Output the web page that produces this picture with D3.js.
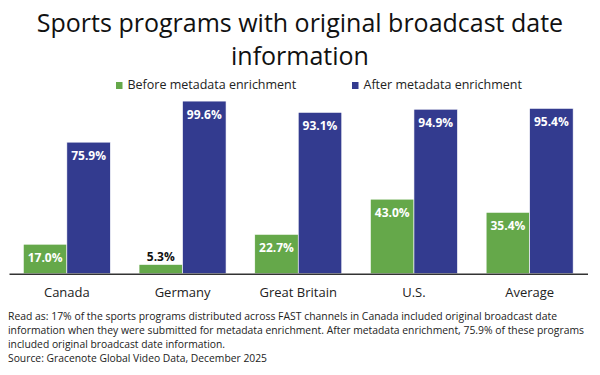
<!DOCTYPE html>
<html>
<head>
<meta charset="utf-8">
<script src="https://cdn.jsdelivr.net/npm/d3@7"></script>
<style>
  body{margin:0;background:#fff;}
  svg text{font-family:"Open Sans",sans-serif;}
</style>
</head>
<body>
<div id="chart"></div>
<script>
let w=600;
let h=375;

let categories=["Canada","Germany","Great Britain","U.S.","Average"];
let seriesNames=["Before metadata enrichment","After metadata enrichment"];
let beforeValues=[17.0,5.3,22.7,43.0,35.4];
let afterValues=[75.9,99.6,93.1,94.9,95.4];
let titleLines=["Sports programs with original broadcast date","information"];
let noteLines=[
  "Read as: 17% of the sports programs distributed across FAST channels in Canada included original broadcast date",
  "information when they were submitted for metadata enrichment. After metadata enrichment, 75.9% of these programs",
  "included original broadcast date information.",
  "Source: Gracenote Global Video Data, December 2025"
];
// measured widths of the footnote lines in the reference
let noteWidths=[549,576,217,259];

let colors=["#65a84a","#333b8f"];

let svg=d3.select("#chart").append("svg")
  .attr("width",w)
  .attr("height",h)
  ;

// title
svg.selectAll(".title").data(titleLines).enter()
  .append("text")
  .attr("class","title")
  .text(d=>d)
  .attr("x",300)
  .attr("y",(d,i)=>31.5+i*33.5)
  .attr("text-anchor","middle")
  .attr("fill","#111")
  .style("font-size","25px")
  ;

// legend
let legendX=[116,352];
let legend=svg.selectAll(".legend").data(seriesNames).enter()
  .append("g")
  .attr("class","legend")
  .attr("transform",(d,i)=>"translate("+legendX[i]+",82)")
  ;
legend.append("rect")
  .attr("width",6.5)
  .attr("height",7)
  .attr("fill",(d,i)=>colors[i]);
legend.append("text")
  .text(d=>d)
  .attr("x",11.5)
  .attr("y",7.3)
  .attr("fill","#222")
  .style("font-size","12.5px");

// scales
let baseY=273.7;
let xScale=d3.scaleBand().domain(categories).range([9,587.5]).padding(0);
let subScale=d3.scaleBand().domain([0,1]).range([0,xScale.bandwidth()]).paddingInner(0).paddingOuter(0.33);
let yScale=d3.scaleLinear().domain([0,100]).range([baseY,100.4]);

let rows=categories.map((c,i)=>({cat:c,vals:[beforeValues[i],afterValues[i]]}));

let groups=svg.selectAll(".group").data(rows).enter()
  .append("g")
  .attr("class","group")
  .attr("transform",d=>"translate("+xScale(d.cat)+",0)")
  ;

let bars=groups.selectAll(".bar").data(d=>d.vals.map((v,j)=>({v:v,j:j}))).enter();

bars.append("rect")
  .attr("class","bar")
  .attr("x",d=>subScale(d.j))
  .attr("width",subScale.bandwidth())
  .attr("y",d=>yScale(d.v))
  .attr("height",d=>baseY-yScale(d.v))
  .attr("fill",d=>colors[d.j])
  .attr("stroke","#fff")
  .attr("stroke-width",0.6)
  ;

// value labels: inside the top, or above when the bar is too short
bars.append("text")
  .text(d=>d.v.toFixed(1)+"%")
  .attr("x",d=>subScale(d.j)+subScale.bandwidth()/2)
  .attr("y",d=>{
    let top=yScale(d.v);
    return (baseY-top)<20 ? top-4 : top+18;
  })
  .attr("text-anchor","middle")
  .attr("fill",d=>(baseY-yScale(d.v))<20 ? "#111" : "#fff")
  .style("font-size","12px")
  .style("font-weight","bold")
  ;

// axis
let xAxis=d3.axisBottom(xScale).tickSize(0).tickPadding(0);
let xAxisGroup=svg.append("g")
  .attr("transform","translate(0,"+baseY+")")
  .call(xAxis);
xAxisGroup.select(".domain").attr("stroke","#333").attr("stroke-width",1.5);
xAxisGroup.selectAll(".tick text")
  .attr("y",23)
  .attr("dy",0)
  .attr("fill","#222")
  .style("font-family","'Open Sans',sans-serif")
  .style("font-size","13px");

// footnote
svg.selectAll(".note").data(noteLines).enter()
  .append("text")
  .attr("class","note")
  .text(d=>d)
  .attr("x",8)
  .attr("y",(d,i)=>320+i*14)
  .attr("textLength",(d,i)=>noteWidths[i])
  .attr("lengthAdjust","spacingAndGlyphs")
  .attr("fill","#222")
  .style("font-size","10.5px")
  ;
</script>
</body>
</html>
